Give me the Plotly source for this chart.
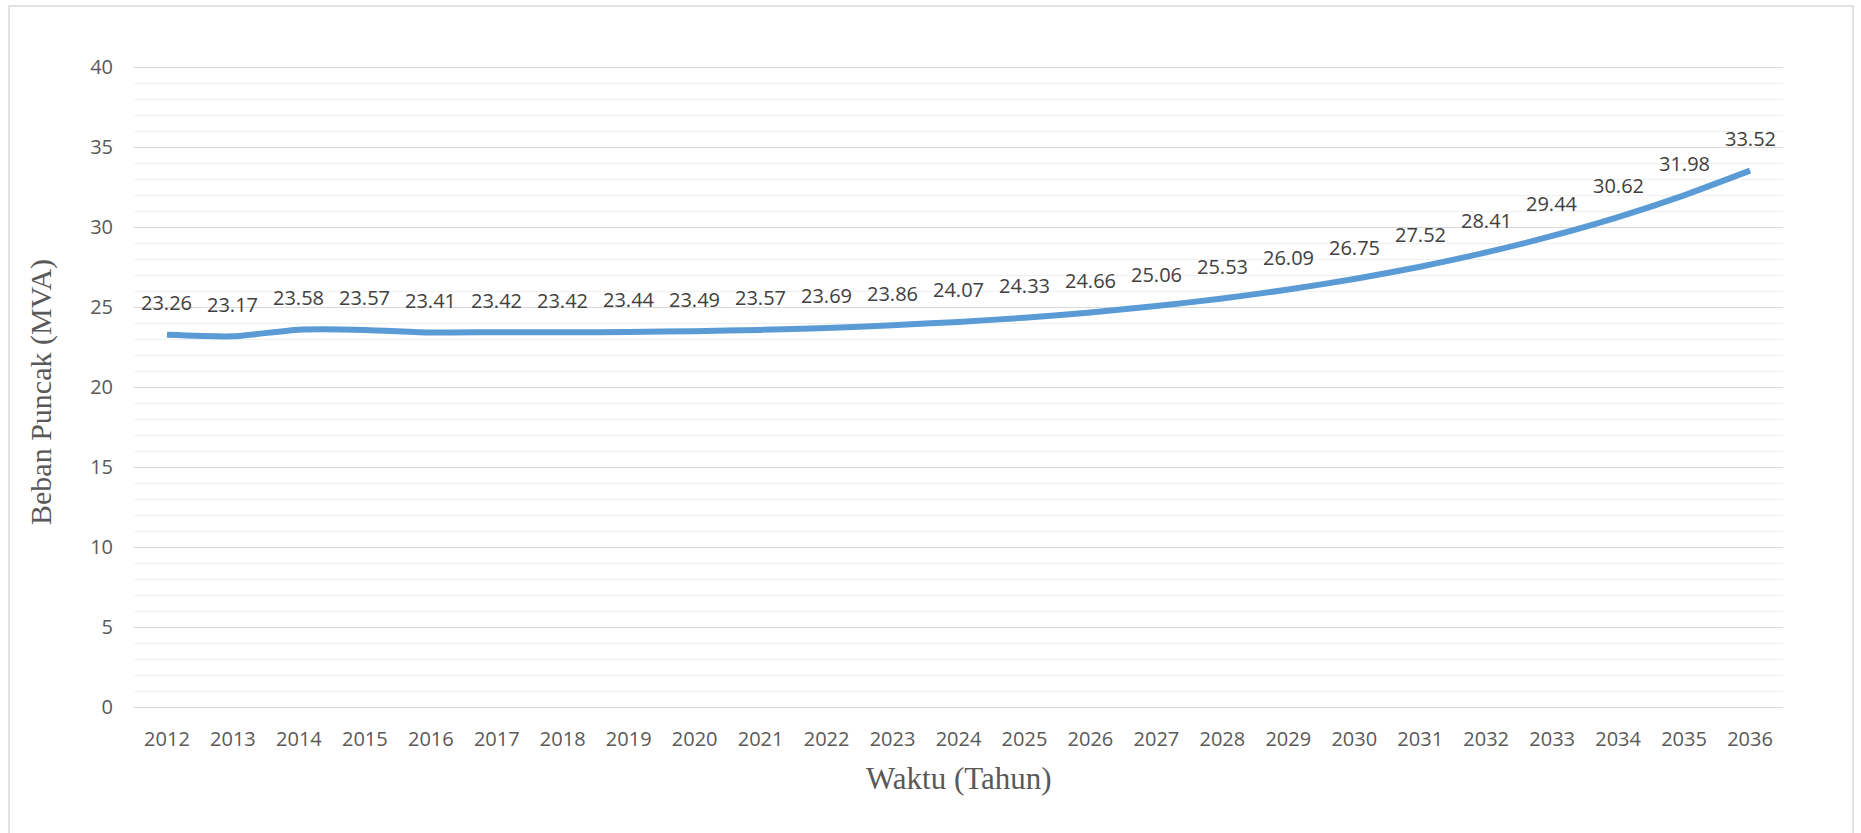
import plotly.graph_objects as go

years = [str(y) for y in range(2012, 2037)]
beban = [23.26, 23.17, 23.58, 23.57, 23.41, 23.42, 23.42, 23.44, 23.49, 23.57,
         23.69, 23.86, 24.07, 24.33, 24.66, 25.06, 25.53, 26.09, 26.75, 27.52,
         28.41, 29.44, 30.62, 31.98, 33.52]
y_ticks = [0, 5, 10, 15, 20, 25, 30, 35, 40]

W, H = 1861, 833
L, R, T, B = 134, 78, 65, 124
pw, ph = W - L - R, H - T - B

def px_x(v):
    return (v - L) / pw

def px_y(v):
    return (H - B - v) / ph

fig = go.Figure()
fig.add_trace(go.Scatter(
    x=years, y=beban, mode="lines",
    line=dict(color="#5b9bd5", width=6, shape="spline", smoothing=0.6),
    hoverinfo="x+y", showlegend=False,
))

annotations = []
for i, v in enumerate(beban):
    annotations.append(dict(
        x=i, y=v, xref="x", yref="y", text=f"{v:.2f}", showarrow=False,
        yshift=32, font=dict(family="Open Sans", size=20, color="#404040"),
        xanchor="center", yanchor="middle",
    ))
annotations.append(dict(
    x=0.5, y=px_y(778), xref="paper", yref="paper", text="Waktu (Tahun)",
    showarrow=False, font=dict(family="Liberation Serif", size=31, color="#595959"),
    xanchor="center", yanchor="middle",
))
annotations.append(dict(
    x=px_x(41), y=px_y(392), xref="paper", yref="paper", text="Beban Puncak (MVA)",
    showarrow=False, textangle=-90,
    font=dict(family="Liberation Serif", size=30, color="#595959"),
    xanchor="center", yanchor="middle",
))

fig.update_layout(
    width=W, height=H,
    margin=dict(l=L, r=R, t=T, b=B),
    paper_bgcolor="white", plot_bgcolor="white",
    annotations=annotations,
    shapes=[dict(
        type="rect", xref="paper", yref="paper",
        x0=px_x(9), x1=px_x(1853), y0=px_y(845), y1=px_y(6),
        line=dict(color="#d9d9d9", width=1.5), fillcolor="rgba(0,0,0,0)", layer="below",
    )],
)
fig.update_xaxes(
    type="category", range=[-0.5, len(years) - 0.5],
    showgrid=False, showline=False, zeroline=False, ticks="",
    tickfont=dict(family="Open Sans", size=20, color="#595959"),
    ticklabelstandoff=16,
)
fig.update_yaxes(
    range=[-0.125, 40.125], tickvals=y_ticks,
    showgrid=True, gridcolor="#d9d9d9", gridwidth=1.3,
    minor=dict(dtick=1, showgrid=True, gridcolor="#f0f0f0", gridwidth=1.3),
    zeroline=False, showline=False, ticks="",
    tickfont=dict(family="Open Sans", size=20, color="#595959"),
    ticklabelstandoff=20,
)

fig.write_html("out.html")
